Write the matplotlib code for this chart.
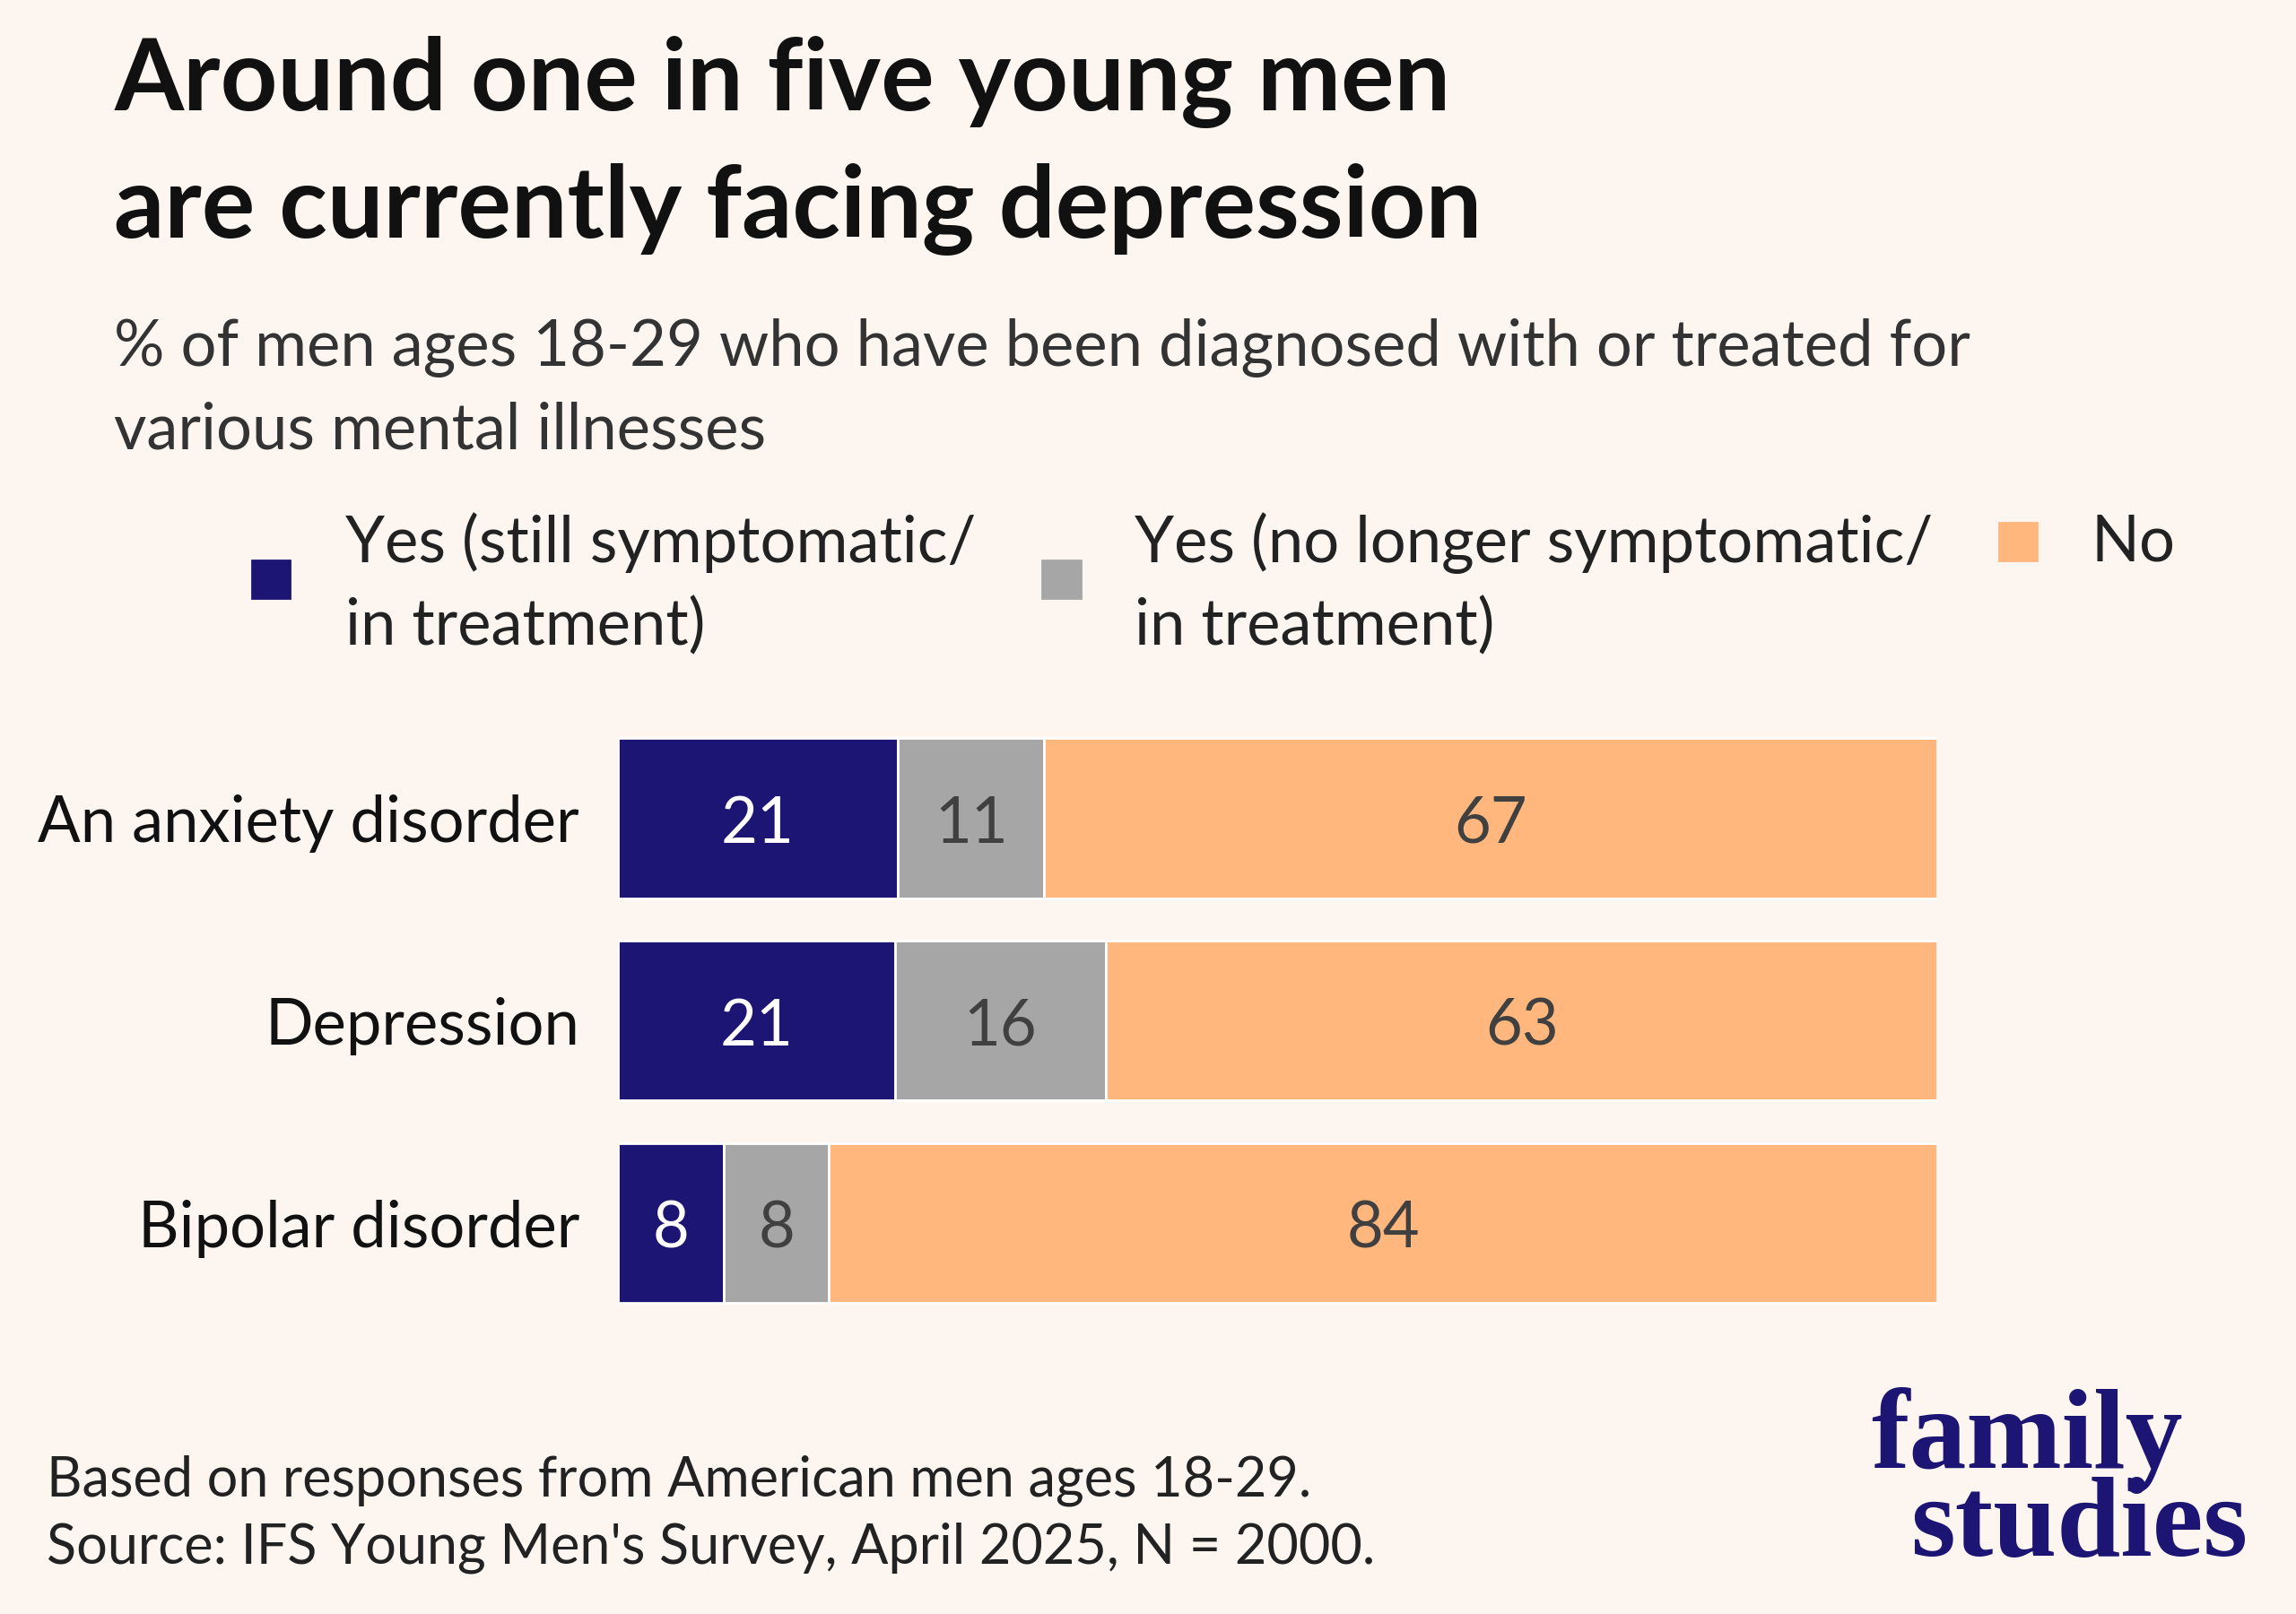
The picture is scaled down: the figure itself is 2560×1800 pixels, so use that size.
import numpy as np
import matplotlib.pyplot as plt
from matplotlib.patches import Rectangle

categories = ["An anxiety disorder", "Depression", "Bipolar disorder"]
still = [21, 21, 8]
no_longer = [11, 16, 8]
no = [67, 63, 84]
series_names = [["Yes (still symptomatic/", "in treatment)"],
                ["Yes (no longer symptomatic/", "in treatment)"],
                ["No"]]
colors = ["#1c1573", "#a6a6a6", "#ffb77d"]
text_colors = ["white", "#404040", "#404040"]

BG = "#fdf6f0"
W, H = 1568, 1103
plt.rcParams['font.family'] = ['Lato', 'DejaVu Sans']

fig = plt.figure(figsize=(12.8, 9), dpi=200, facecolor=BG)

def fx(x): return x / W
def fy(y): return 1 - y / H

fig.text(fx(78), fy(56), "Around one in five young men", fontsize=40, fontweight='bold', color='#111111', va='center')
fig.text(fx(78), fy(143), "are currently facing depression", fontsize=40, fontweight='bold', color='#111111', va='center')
fig.text(fx(78), fy(238), "% of men ages 18-29 who have been diagnosed with or treated for", fontsize=25.4, color='#333333', va='center')
fig.text(fx(78), fy(294), "various mental illnesses", fontsize=25.4, color='#333333', va='center')

# legend
leg = [(172, 383, 236), (712, 383, 775), (1365, 357, 1428)]
for (sx, sy, tx), lines, c in zip(leg, series_names, colors):
    fig.patches.append(Rectangle((fx(sx), fy(sy + 26)), 26 / W, 26 / H, color=c, transform=fig.transFigure))
    for i, line in enumerate(lines):
        fig.text(fx(tx), fy(371 + 57 * i), line, fontsize=25.4, color='#222222', va='center')

ax = fig.add_axes([fx(422), fy(905), fx(1323) - fx(422), (905 - 490) / H])
ax.set_facecolor(BG)
data = np.array([still, no_longer, no], dtype=float)
totals = data.sum(axis=0)
y = np.arange(len(categories))
left = np.zeros(len(categories))
for vals, c, tc in zip(data, colors, text_colors):
    w = vals / totals * 100
    ax.barh(y, w, left=left, height=0.79, color=c, edgecolor='white', linewidth=1)
    for yi, (l, wi, v) in enumerate(zip(left, w, vals)):
        ax.text(l + wi / 2, yi + 0.03, f"{int(v)}", ha='center', va='center', fontsize=25.4, color=tc)
    left += w
ax.set_xlim(0, 100)
ax.set_ylim(2.5, -0.5)
ax.set_yticks(y)
ax.set_yticklabels(categories, fontsize=25.4, color='#111111')
ax.tick_params(left=False, bottom=False, labelbottom=False, pad=12)
for s in ax.spines.values():
    s.set_visible(False)

fig.text(fx(32), fy(1012), "Based on responses from American men ages 18-29.", fontsize=22, color='#222222', va='center')
fig.text(fx(32), fy(1058), "Source: IFS Young Men's Survey, April 2025, N = 2000.", fontsize=22, color='#222222', va='center')

fig.text(fx(1278), fy(1003), "family", fontsize=46, fontweight='bold', family='Liberation Serif', color='#1c1573', va='baseline')
fig.text(fx(1305), fy(1063), "studies", fontsize=46, fontweight='bold', family='Liberation Serif', color='#1c1573', va='baseline')

fig.savefig("out.png", dpi=200, facecolor=BG)
